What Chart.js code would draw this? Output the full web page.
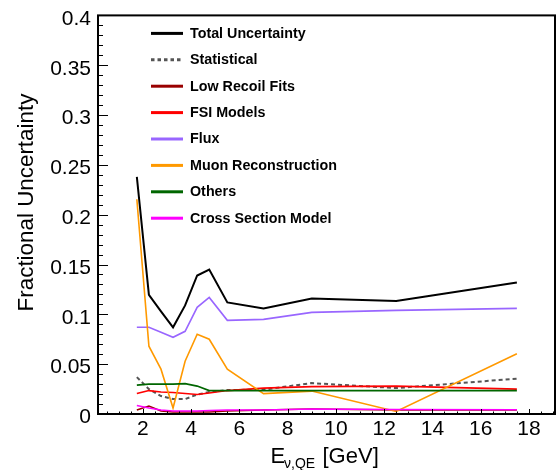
<!DOCTYPE html>
<html>
<head>
<meta charset="utf-8">
<script src="https://cdn.jsdelivr.net/npm/chart.js@4"></script>
<style>
  html, body { margin: 0; padding: 0; background: #fff; }
  canvas { display: block; }
</style>
</head>
<body>
<canvas id="uncChart" width="558" height="470"></canvas>
<script>
// Neutrino energy bin centres [GeV]
const energies = [1.75, 2.25, 2.75, 3.25, 3.75, 4.25, 4.75, 5.5, 7, 9, 12.5, 17.5];

// Fractional uncertainties per source
const totalUnc    = [0.238, 0.1195, 0.103, 0.087, 0.109, 0.139, 0.145, 0.112, 0.106, 0.116, 0.1135, 0.132];
const statistical = [0.037, 0.025, 0.018, 0.015, 0.015, 0.0195, 0.022, 0.024, 0.0245, 0.031, 0.026, 0.0355];
const lowRecoil   = [0.004, 0.008, 0.003, 0.002, 0.002, 0.002, 0.002, 0.003, 0.004, 0.005, 0.004, 0.004];
const fsiModels   = [0.0205, 0.0235, 0.022, 0.0215, 0.0205, 0.0195, 0.021, 0.0235, 0.026, 0.0275, 0.028, 0.025];
const flux        = [0.087, 0.087, 0.082, 0.077, 0.083, 0.107, 0.117, 0.094, 0.095, 0.102, 0.104, 0.106];
const muonReco    = [0.2155, 0.068, 0.045, 0.006, 0.053, 0.080, 0.075, 0.045, 0.0205, 0.023, 0.0025, 0.0605];
const others      = [0.029, 0.030, 0.030, 0.030, 0.0305, 0.028, 0.0235, 0.0235, 0.0235, 0.0235, 0.0235, 0.0235];
const xsecModel   = [0.0085, 0.006, 0.004, 0.003, 0.003, 0.003, 0.0035, 0.004, 0.004, 0.005, 0.0045, 0.0043];

const seriesNames = ['Total Uncertainty', 'Statistical', 'Low Recoil Fits', 'FSI Models',
                     'Flux', 'Muon Reconstruction', 'Others', 'Cross Section Model'];
const seriesValues = [totalUnc, statistical, lowRecoil, fsiModels, flux, muonReco, others, xsecModel];
const seriesColors = ['#000000', '#555555', '#990000', '#ff0000', '#9966ff', '#ff9900', '#006600', '#ff00ff'];

// Axis ticks
const xTicks = [2, 4, 6, 8, 10, 12, 14, 16, 18];
const yTicks = [0, 0.05, 0.1, 0.15, 0.2, 0.25, 0.3, 0.35, 0.4];
const yTickLabels = ['0', '0.05', '0.1', '0.15', '0.2', '0.25', '0.3', '0.35', '0.4'];

const FONT = "'Liberation Sans', Arial, Helvetica, sans-serif";

const datasets = seriesNames.map((name, i) => ({
  label: name,
  data: energies.map((e, j) => ({ x: e, y: seriesValues[i][j] })),
  borderColor: seriesColors[i],
  backgroundColor: seriesColors[i],
  borderWidth: i === 0 ? 2 : (i === 1 ? 2 : 1.6),
  borderDash: i === 1 ? [4, 3] : [],
  pointRadius: 0,
  tension: 0,
  fill: false,
  order: seriesNames.length - i
}));

// ROOT-like frame, inward ticks, axis titles and legend
const rootStyle = {
  id: 'rootStyle',
  afterDraw(chart) {
    const ctx = chart.ctx;
    const a = chart.chartArea;
    const xs = chart.scales.x, ys = chart.scales.y;
    ctx.save();
    ctx.strokeStyle = '#000';
    ctx.lineWidth = 1;

    // y ticks (inside)
    ctx.beginPath();
    for (let k = 0; k <= 40; k++) {
      const py = Math.round(ys.getPixelForValue(k * 0.01)) + 0.5;
      const len = k % 5 === 0 ? 10 : 5;
      ctx.moveTo(a.left, py);
      ctx.lineTo(a.left + len, py);
    }
    // x ticks (inside)
    for (let v = 0.5; v <= xs.max; v += 0.5) {
      const px = Math.round(xs.getPixelForValue(v)) + 0.5;
      const len = (v % 2 === 0) ? 5 : 2.5;
      ctx.moveTo(px, a.bottom);
      ctx.lineTo(px, a.bottom - len);
    }
    ctx.stroke();

    // frame
    ctx.lineWidth = 2;
    ctx.strokeRect(a.left, a.top, a.right - a.left, a.bottom - a.top);

    // y title
    ctx.fillStyle = '#000';
    ctx.font = '22.4px ' + FONT;
    ctx.save();
    ctx.translate(33, 202.5);
    ctx.rotate(-Math.PI / 2);
    ctx.textAlign = 'center';
    ctx.textBaseline = 'alphabetic';
    ctx.fillText('Fractional Uncertainty', 0, 0);
    ctx.restore();

    // x title: E_{nu,QE} [GeV]
    ctx.textAlign = 'left';
    ctx.textBaseline = 'alphabetic';
    ctx.font = '22px ' + FONT;
    ctx.fillText('E', 270.5, 463);
    ctx.font = '14px ' + FONT;
    ctx.fillText('\u03bd,QE', 284, 468);
    ctx.font = '22px ' + FONT;
    ctx.fillText('[GeV]', 322.5, 463);

    // legend
    ctx.font = 'bold 14.3px ' + FONT;
    ctx.textBaseline = 'middle';
    chart.data.datasets.forEach((ds, i) => {
      const ly = a.top + 18 + i * 26.4;
      ctx.beginPath();
      ctx.strokeStyle = ds.borderColor;
      ctx.lineWidth = 3;
      ctx.setLineDash(i === 1 ? [3.5, 3] : []);
      ctx.moveTo(151, ly);
      ctx.lineTo(183, ly);
      ctx.stroke();
      ctx.setLineDash([]);
      ctx.fillStyle = '#000';
      ctx.fillText(ds.label, 190, ly + 0.5);
    });
    ctx.restore();
  }
};

const ctx = document.getElementById('uncChart').getContext('2d');

const uncChart = new Chart(ctx, {
  type: 'line',
  data: { datasets: datasets },
  options: {
    responsive: false,
    animation: false,
    layout: { padding: { top: 15, right: 3, left: 0, bottom: 0 } },
    plugins: {
      legend: { display: false },
      tooltip: { enabled: false }
    },
    scales: {
      x: {
        type: 'linear',
        min: 0.14,
        max: 19.08,
        afterBuildTicks: (s) => { s.ticks = xTicks.map(v => ({ value: v })); },
        afterFit: (s) => { s.height = 56; },
        grid: { display: false, drawTicks: false },
        border: { display: false },
        ticks: {
          color: '#000',
          padding: 3,
          maxRotation: 0,
          font: { family: FONT, size: 21 },
          callback: (v) => String(v)
        }
      },
      y: {
        min: 0,
        max: 0.4,
        afterBuildTicks: (s) => { s.ticks = yTicks.map(v => ({ value: v })); },
        afterFit: (s) => { s.width = 98; },
        grid: { display: false, drawTicks: false },
        border: { display: false },
        ticks: {
          color: '#000',
          padding: 7,
          labelOffset: 3.5,
          font: { family: FONT, size: 21, lineHeight: 0.8 },
          callback: (v, i) => yTickLabels[i]
        }
      }
    }
  },
  plugins: [rootStyle]
});
</script>
</body>
</html>
